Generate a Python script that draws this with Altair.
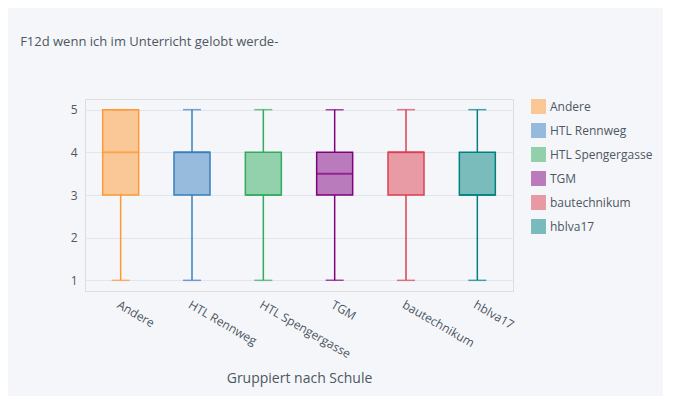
import pandas as pd
import altair as alt

schools = ["Andere", "HTL Rennweg", "HTL Spengergasse", "TGM", "bautechnikum", "hblva17"]
colors = ["#ff9933", "#3780bf", "#32ab60", "#800080", "#db4052", "#008080"]
lower = [1, 1, 1, 1, 1, 1]
q1 = [3, 3, 3, 3, 3, 3]
median = [4, 4, 3, 3.5, 4, 3]
q3 = [5, 4, 4, 4, 4, 4]
upper = [5, 5, 5, 5, 5, 5]

df = pd.DataFrame({"school": schools, "lower": lower, "q1": q1,
                   "median": median, "q3": q3, "upper": upper})

x = alt.X("school:N", sort=schools, title="Gruppiert nach Schule",
          axis=alt.Axis(labelAngle=30, labelAlign="left", labelBaseline="top",
                        ticks=False, domain=False, labelFontSize=12, titleFontSize=14,
                        titleFontWeight="normal",
                        labelColor="#4D5663", titleColor="#4D5663", titlePadding=12,
                        labelPadding=8))
cscale = alt.Scale(domain=schools, range=colors)
color = alt.Color("school:N", sort=schools, title=None, scale=cscale,
                  legend=alt.Legend(symbolType="square", symbolSize=180,
                                    symbolOpacity=0.5, labelFontSize=12,
                                    labelColor="#4D5663", symbolStrokeWidth=1.5,
                                    rowPadding=3))
stroke = alt.Stroke("school:N", sort=schools, scale=cscale, legend=None)
yscale = alt.Scale(domain=[0.75, 5.25], nice=False)

base = alt.Chart(df)
wlow = base.mark_rule(strokeWidth=1.5).encode(
    x=x, y=alt.Y("lower:Q", scale=yscale, title=None,
                 axis=alt.Axis(values=[1, 2, 3, 4, 5], ticks=False, domain=False,
                               gridColor="#E1E5ED", labelColor="#4D5663",
                               labelFontSize=12, labelPadding=8)),
    y2="q1:Q", color=color)
wup = base.mark_rule(strokeWidth=1.5).encode(x=x, y="q3:Q", y2="upper:Q", color=color)
box = base.mark_bar(size=36, fillOpacity=0.5, strokeWidth=1.5, strokeOpacity=1).encode(
    x=x, y="q1:Q", y2="q3:Q", color=color, stroke=stroke)
med = base.mark_tick(size=36, thickness=2).encode(x=x, y="median:Q", color=color)
capl = base.mark_tick(size=18, thickness=1.5).encode(x=x, y="lower:Q", color=color)
capu = base.mark_tick(size=18, thickness=1.5).encode(x=x, y="upper:Q", color=color)

chart = (wlow + wup + box + med + capl + capu).properties(
    width=428, height=192,
    background="#F5F6F9",
    title=alt.TitleParams("F12d wenn ich im Unterricht gelobt werde-", anchor="start",
                          fontSize=13, fontWeight="normal", color="#4D5663",
                          offset=50, dx=-50),
    padding={"left": 12, "top": 28, "right": 10, "bottom": 10},
).configure_view(stroke=None, fill="#F5F6F9").configure(font="Open Sans")

chart.save("out.html", embed_options={"renderer": "svg", "actions": False})
